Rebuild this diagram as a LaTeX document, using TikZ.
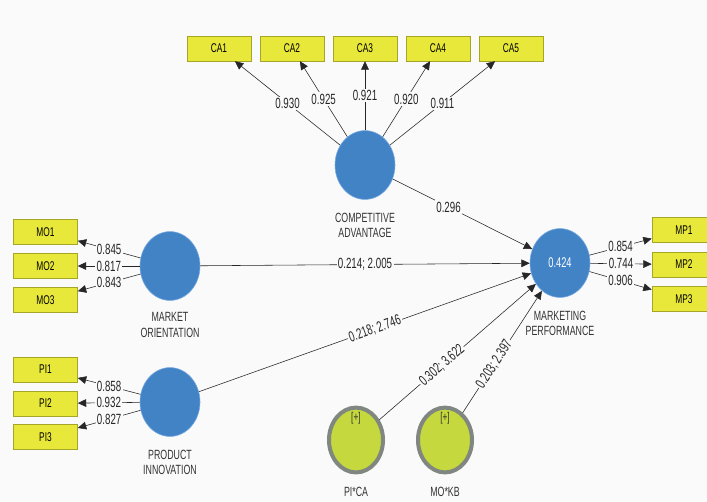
\documentclass[tikz,border=0pt]{standalone}
\usepackage{fontspec}
\setmainfont{Liberation Sans}[FakeStretch=0.66]
\usepackage{xcolor}
\usepackage{tikz}
\usetikzlibrary{shapes.geometric,arrows.meta}

\definecolor{latblue}{RGB}{66,131,198}
\definecolor{latedge}{RGB}{120,170,225}
\definecolor{itemfill}{RGB}{232,232,58}
\definecolor{itemedge}{RGB}{165,165,40}
\definecolor{modfill}{RGB}{197,216,61}
\definecolor{modedge}{RGB}{128,135,128}
\definecolor{bgcol}{RGB}{250,250,250}

\begin{document}
\begin{tikzpicture}[x=0.025cm, y=-0.025cm,
    item/.style={draw=itemedge, fill=itemfill, rectangle, minimum width=1.6cm, minimum height=0.62cm, inner sep=0pt, font=\fontsize{9}{10}\selectfont},
    latent/.style={draw=latedge, fill=latblue, ellipse, minimum width=1.5cm, minimum height=1.72cm, inner sep=0pt},
    moder/.style={draw=modedge, line width=0.1cm, fill=modfill, ellipse, minimum width=1.35cm, minimum height=1.62cm, inner sep=0pt},
    latname/.style={align=center, font=\fontsize{9.5}{10.8}\selectfont, text=black!80},
    load/.style={-{Triangle[length=6pt,width=5.5pt]}, black!85},
    coef/.style={fill=bgcol, inner sep=1pt, font=\fontsize{10.5}{12}\selectfont}
]

\fill[bgcol] (0,0) rectangle (707,501);
\clip (0,0) rectangle (707,501);

% latent variables
\node[latent] (ca) at (365,165) {};
\node[latent] (mo) at (170,266) {};
\node[latent] (pi) at (170,402) {};
\node[latent, text=white, font=\fontsize{10}{12}\selectfont] (mp) at (560,263) {0.424};
\node[moder] (pica) at (356,440) {};
\node[moder] (mokb) at (445,440) {};

\node[latname] (canm) at (365,225) {COMPETITIVE\\ADVANTAGE};
\node[latname] (monm) at (170,325) {MARKET\\ORIENTATION};
\node[latname] (pinm) at (170,462) {PRODUCT\\INNOVATION};
\node[latname] (mpnm) at (560,323) {MARKETING\\PERFORMANCE};
\node[latname] (picanm) at (356,492) {PI*CA};
\node[latname] (mokbnm) at (445,492) {MO*KB};
\node[latname, font=\fontsize{9}{10}\selectfont] (picapl) at (356,418) {[+]};
\node[latname, font=\fontsize{9}{10}\selectfont] (mokbpl) at (445,418) {[+]};

% indicators
\node[item] (ca1) at (219,48.5) {CA1};
\node[item] (ca2) at (292,48.5) {CA2};
\node[item] (ca3) at (365,48.5) {CA3};
\node[item] (ca4) at (438,48.5) {CA4};
\node[item] (ca5) at (511,48.5) {CA5};

\node[item] (mo1) at (45.5,232) {MO1};
\node[item] (mo2) at (45.5,266) {MO2};
\node[item] (mo3) at (45.5,300) {MO3};

\node[item] (pi1) at (45.5,369.5) {PI1};
\node[item] (pi2) at (45.5,403.5) {PI2};
\node[item] (pi3) at (45.5,437) {PI3};

\node[item] (mp1) at (684,230) {MP1};
\node[item] (mp2) at (684,264.5) {MP2};
\node[item] (mp3) at (684,299) {MP3};

% outer loadings
\draw[load] (ca) -- node[coef] {0.930} (ca1);
\draw[load] (ca) -- node[coef] {0.925} (ca2);
\draw[load] (ca) -- node[coef] {0.921} (ca3);
\draw[load] (ca) -- node[coef] {0.920} (ca4);
\draw[load] (ca) -- node[coef] {0.911} (ca5);

\draw[load] (mo) -- node[coef] {0.845} (mo1);
\draw[load] (mo) -- node[coef] {0.817} (mo2);
\draw[load] (mo) -- node[coef] {0.843} (mo3);

\draw[load] (pi) -- node[coef] {0.858} (pi1);
\draw[load] (pi) -- node[coef] {0.932} (pi2);
\draw[load] (pi) -- node[coef] {0.827} (pi3);

\draw[load] (mp) -- node[coef] {0.854} (mp1);
\draw[load] (mp) -- node[coef] {0.744} (mp2);
\draw[load] (mp) -- node[coef] {0.906} (mp3);

% path coefficients
\draw[load] (ca) -- node[coef, pos=0.4] {0.296} (mp);
\draw[load] (mo) -- node[coef] {0.214; 2.005} (mp);
\draw[load] (pi) -- node[coef, sloped, pos=0.53] {0.218; 2.746} (mp);
\draw[load] (pica) -- node[coef, sloped, pos=0.4] {0.302; 3.622} (mp);
\draw[load] (mokb) -- node[coef, sloped, pos=0.4] {0.203; 2.397} (mp);

\end{tikzpicture}
\end{document}
